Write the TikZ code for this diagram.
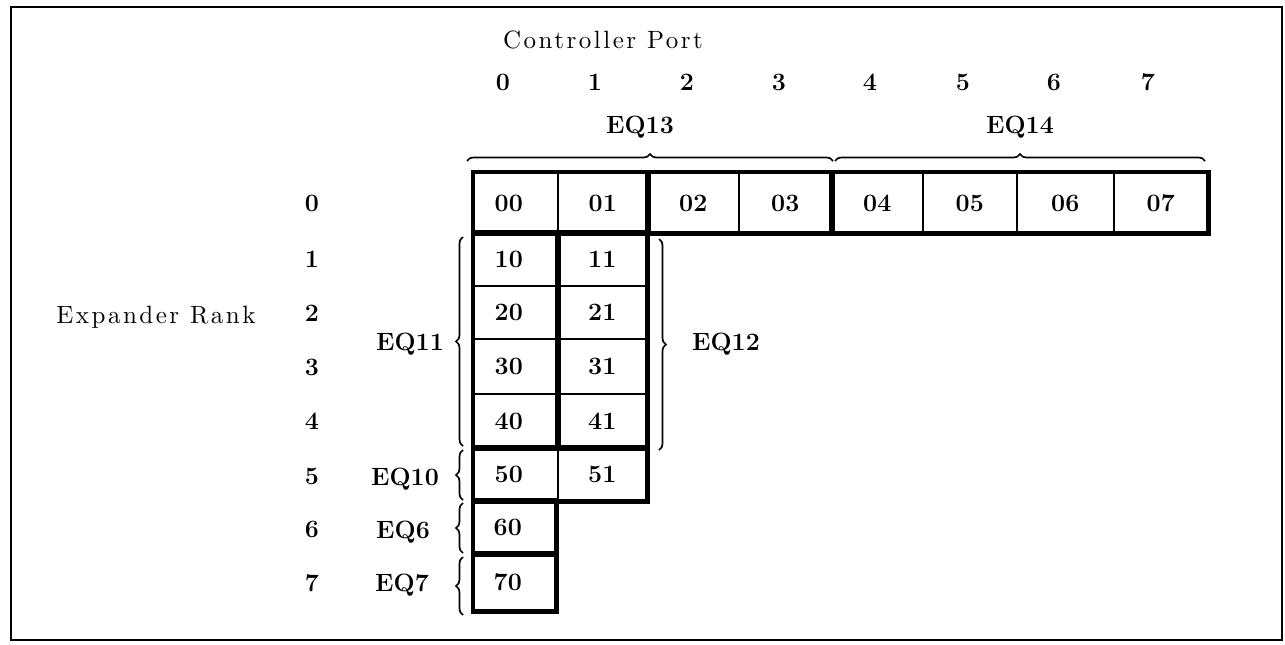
\documentclass[tikz,border=0pt]{standalone}
\usepackage{fontspec}
\newfontfamily\lmten{lmroman10-regular.otf}[LetterSpace=10]
\usetikzlibrary{decorations.pathreplacing}
\newcommand{\lft}[1]{#1\hspace*{14pt}}
\begin{document}
\begin{tikzpicture}[x=1pt,y=-1pt,
  txt/.style={font={\lmten\fontsize{25}{30}\selectfont}, inner sep=0pt, text depth=0pt},
  num/.style={font={\fontsize{25}{30}\selectfont\bfseries}, inner sep=0pt, text depth=0pt},
  cell/.style={draw, line width=1.6pt, anchor=north west, inner sep=0pt, text depth=0pt,
               font={\fontsize{25}{30}\selectfont\bfseries}},
  grp/.style={draw, line width=4.5pt},
  brc/.style={decorate, decoration={brace, amplitude=7pt}, line width=1.7pt},
  frame/.style={draw, line width=2pt}
]
\useasboundingbox (0,0) rectangle (1285,645);
\draw[frame] (11,7) rectangle (1282,640);

% header
\node[txt] (cp) at (603,40) {Controller Port};
\foreach \i/\x in {0/503,1/595,2/687,3/779,4/870,5/963,6/1054,7/1148}
  \node[num] (p\i) at (\x,82) {\i};
\node[num] (eq13) at (640,125) {EQ13};
\node[num] (eq14) at (1020,125) {EQ14};

% row labels
\foreach \i/\y in {0/203,1/259,2/313,3/367,4/421,5/476,6/529,7/583}
  \node[num] (r\i) at (312,\y) {\i};
\node[txt] (er) at (156,315) {Expander Rank};
\node[num] (eq11) at (410,342) {EQ11};
\node[num] (eq10) at (405,477) {EQ10};
\node[num] (eq6) at (403,530) {EQ6};
\node[num] (eq7) at (402,583) {EQ7};
\node[num] (eq12) at (726,342) {EQ12};

% row 0
\node[cell, minimum width=84pt, minimum height=60pt] (c00) at (473,172) {\lft{00}};
\node[cell, minimum width=90pt, minimum height=60pt] (c01) at (557,172) {01};
\node[cell, minimum width=91pt, minimum height=60pt] (c02) at (647,172) {02};
\node[cell, minimum width=93pt, minimum height=60pt] (c03) at (738,172) {03};
\node[cell, minimum width=91pt, minimum height=60pt] (c04) at (831,172) {04};
\node[cell, minimum width=94pt, minimum height=60pt] (c05) at (922,172) {05};
\node[cell, minimum width=97pt, minimum height=60pt] (c06) at (1016,172) {06};
\node[cell, minimum width=94pt, minimum height=60pt] (c07) at (1113,172) {07};
% rows 1-5
\node[cell, minimum width=84pt, minimum height=53pt] (c10) at (473,232) {\lft{10}};
\node[cell, minimum width=89pt, minimum height=53pt] (c11) at (557,232) {11};
\node[cell, minimum width=84pt, minimum height=53pt] (c20) at (473,285) {\lft{20}};
\node[cell, minimum width=89pt, minimum height=53pt] (c21) at (557,285) {21};
\node[cell, minimum width=84pt, minimum height=55pt] (c30) at (473,338) {\lft{30}};
\node[cell, minimum width=89pt, minimum height=55pt] (c31) at (557,338) {31};
\node[cell, minimum width=84pt, minimum height=54pt] (c40) at (473,393) {\lft{40}};
\node[cell, minimum width=89pt, minimum height=54pt] (c41) at (557,393) {41};
\node[cell, minimum width=84pt, minimum height=53pt] (c50) at (473,447) {\lft{50}};
\node[cell, minimum width=89pt, minimum height=53pt] (c51) at (557,447) {51};
% rows 6-7
\node[cell, minimum width=82pt, minimum height=53pt] (c60) at (473,500) {\lft{60}};
\node[cell, minimum width=82pt, minimum height=57pt] (c70) at (473,553) {\lft{70}};

% thick group outlines
\draw[grp] (c00.north west) rectangle (c01.south east);
\draw[grp] (c02.north west) rectangle (c03.south east);
\draw[grp] (c04.north west) rectangle (c07.south east);
\draw[grp] (c10.north west) rectangle (c40.south east);
\draw[grp] (c11.north west) rectangle (c41.south east);
\draw[grp] (c50.north west) rectangle (c51.south east);
\draw[grp] (c60.north west) rectangle (c60.south east);
\draw[grp] (c70.north west) rectangle (c70.south east);

% braces
\coordinate (b13a) at (467,161); \coordinate (b13b) at (833,161);
\coordinate (b14a) at (835,161); \coordinate (b14b) at (1205,161);
\draw[brc] (b13a) -- (b13b);
\draw[brc] (b14a) -- (b14b);
\coordinate (b11a) at (463,446); \coordinate (b11b) at (463,237);
\coordinate (b10a) at (463,500); \coordinate (b10b) at (463,450);
\coordinate (b6a) at (463,553); \coordinate (b6b) at (463,503);
\coordinate (b7a) at (463,615); \coordinate (b7b) at (463,557);
\draw[brc] (b11a) -- (b11b);
\draw[brc] (b10a) -- (b10b);
\draw[brc] (b6a) -- (b6b);
\draw[brc] (b7a) -- (b7b);
\coordinate (b12a) at (659,239); \coordinate (b12b) at (659,450);
\draw[brc] (b12a) -- (b12b);
\end{tikzpicture}
\end{document}
